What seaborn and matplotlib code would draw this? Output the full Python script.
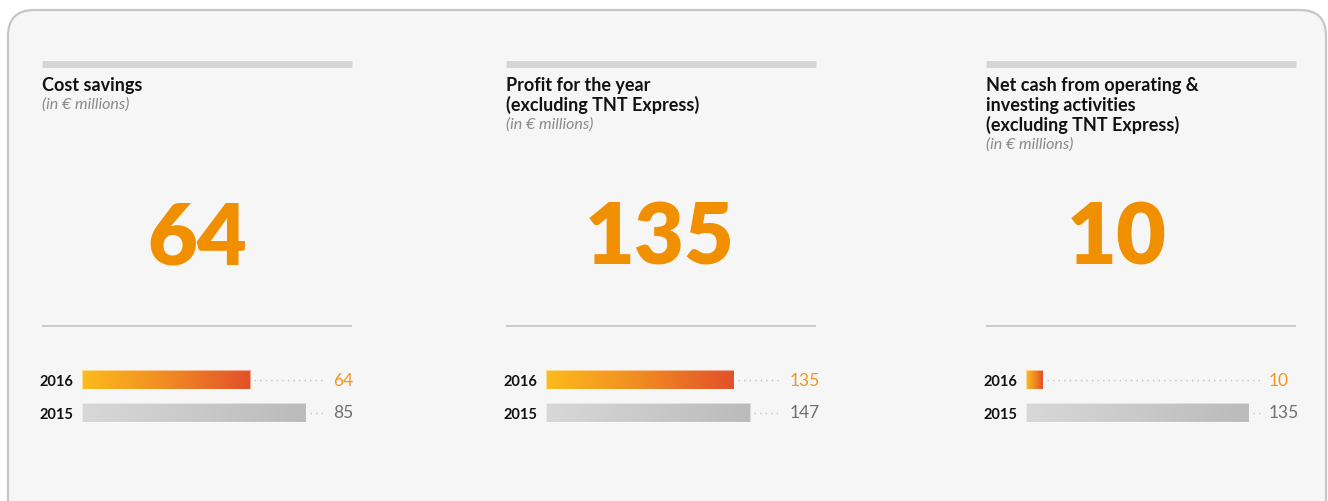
import numpy as np
import pandas as pd
import matplotlib.pyplot as plt
import seaborn as sns
from matplotlib.patches import FancyBboxPatch
from matplotlib.colors import LinearSegmentedColormap

# datos del gráfico
titles = [
    "Cost savings",
    "Profit for the year\n(excluding TNT Express)",
    "Net cash from operating &\ninvesting activities\n(excluding TNT Express)",
]
subtitle = "(in € millions)"
years = ["2016", "2015"]
values_2016 = [64, 135, 10]
values_2015 = [85, 147, 135]

sns.set_style("white")
plt.rcParams["font.family"] = ["Lato", "DejaVu Sans"]

W, H = 1328, 502
fig = plt.figure(figsize=(W / 100, H / 100), dpi=100)
fig.patch.set_facecolor("white")

# fondo en coordenadas de pixel
bg = fig.add_axes([0, 0, 1, 1])
bg.set_xlim(0, W)
bg.set_ylim(H, 0)
bg.axis("off")
bg.add_patch(FancyBboxPatch((8, 11), 1318, 540, boxstyle="round,pad=0,rounding_size=26",
                            fc="#f6f6f6", ec="#c6c6c6", lw=1.6))

ORANGE = "#f09000"
cmap_new = LinearSegmentedColormap.from_list("new", ["#fdbb1c", "#f18b22", "#e3502a"])
cmap_old = LinearSegmentedColormap.from_list("old", ["#d8d8d8", "#bbbbbb"])

panel_left = [42, 506, 986]
panel_w = 310
big_x = [197, 660, 1117]
label_off = [291, 284, 283]
px_per_unit = [2.63, 1.39, 1.65]

for i in range(3):
    x0 = panel_left[i]
    # linea gruesa superior y linea fina
    bg.plot([x0, x0 + panel_w], [64.5, 64.5], color="#d6d6d6", lw=5.0, solid_capstyle="butt")
    bg.plot([x0, x0 + panel_w], [327, 327], color="#cbcbcb", lw=1.4, solid_capstyle="butt")

    # titulo y subtitulo
    lines = titles[i].split("\n")
    for j, line in enumerate(lines):
        bg.text(x0, 91 + 20 * j, line, fontsize=13, fontweight="bold", color="#111111", va="baseline")
    bg.text(x0, 91 + 20 * (len(lines) - 1) + 18, subtitle, fontsize=11.5, style="italic",
            color="#8a8a8a", va="baseline")

    # numero grande
    bg.text(big_x[i], 265, str(values_2016[i]), fontsize=62, fontweight="heavy", color=ORANGE,
            ha="center", va="baseline")

    # barras
    ax_left = x0 + 40
    ax_w = 270
    ax = fig.add_axes([ax_left / W, 1 - 430 / H, ax_w / W, 66 / H])
    df = pd.DataFrame({"year": years, "value": [values_2016[i], values_2015[i]]})
    sns.barplot(data=df, x="value", y="year", order=years, orient="h", width=0.58,
                color="#cccccc", ax=ax)
    xmax = ax_w / px_per_unit[i]
    ax.set_facecolor("none")
    for s in ax.spines.values():
        s.set_visible(False)
    ax.set_xlabel("")
    ax.set_ylabel("")
    ax.set_xticks([])
    ax.tick_params(axis="y", length=0, pad=6.5)
    for t in ax.get_yticklabels():
        t.set_fontweight("bold")
        t.set_fontsize(10.5)
        t.set_color("#111111")

    lab_x = (label_off[i] - 40) / px_per_unit[i]
    for k, p in enumerate(ax.patches):
        bx, by, bw, bh = p.get_x(), p.get_y(), p.get_width(), p.get_height()
        cm = cmap_new if k == 0 else cmap_old
        grad = np.linspace(0, 1, 256).reshape(1, -1)
        im = ax.imshow(grad, cmap=cm, extent=[bx, bx + bw, by + bh, by], aspect="auto",
                       zorder=2, interpolation="bilinear")
        im.set_clip_path(p)
        p.set_facecolor("none")
        p.set_edgecolor((1, 1, 1, 0.6))
        p.set_linewidth(0.6)
        p.set_zorder(3)
        yc = by + bh / 2
        # puntos guia
        ax.plot([bx + bw + 4 / px_per_unit[i], lab_x - 9 / px_per_unit[i]], [yc, yc],
                color="#c4c4c4", lw=1.0, linestyle=(0, (1, 3)), zorder=1)
        ax.text(lab_x, yc, str(int(bw)), fontsize=12.5,
                color="#f29622" if k == 0 else "#707070", va="center", ha="left")
    ax.set_xlim(0, xmax)
    ax.set_ylim(1.5, -0.5)

fig.savefig("out.png", dpi=100, facecolor="white")
